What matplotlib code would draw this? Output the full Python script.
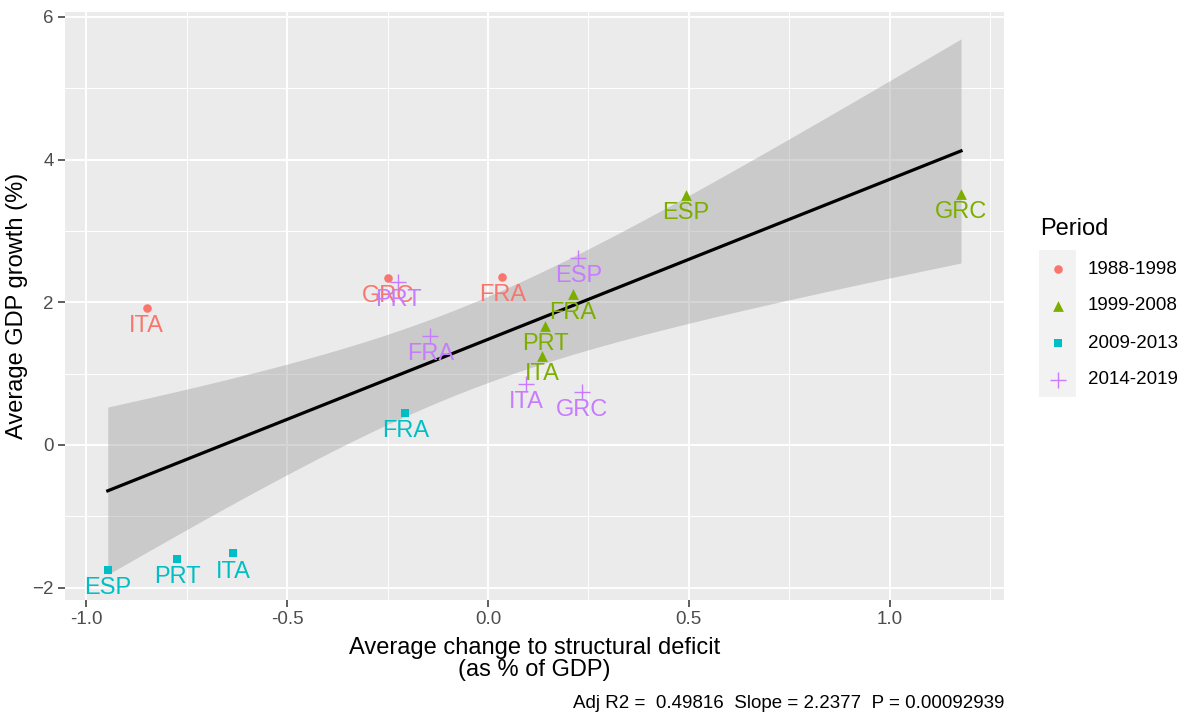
import numpy as np
import matplotlib
matplotlib.use("Agg")
import matplotlib.pyplot as plt
from matplotlib.ticker import FixedLocator

plt.rcParams['font.family'] = ['Liberation Sans', 'DejaVu Sans']

# ---- data ----
periods = ['1988-1998', '1999-2008', '2009-2013', '2014-2019']
colors = ['#F8766D', '#7CAE00', '#00BFC4', '#C77CFF']
markers = ['o', '^', 's', '+']
msizes = [38, 60, 36, 120]

p88_countries = ['ITA', 'GRC', 'FRA']
p88_x = [-0.850, -0.250, 0.036]
p88_y = [1.92, 2.34, 2.36]

p99_countries = ['ESP', 'GRC', 'FRA', 'PRT', 'ITA']
p99_x = [0.493, 1.178, 0.212, 0.142, 0.134]
p99_y = [3.51, 3.52, 2.11, 1.67, 1.25]

p09_countries = ['FRA', 'ESP', 'PRT', 'ITA']
p09_x = [-0.206, -0.947, -0.774, -0.634]
p09_y = [0.45, -1.75, -1.60, -1.52]

p14_countries = ['PRT', 'FRA', 'ESP', 'ITA', 'GRC']
p14_x = [-0.223, -0.144, 0.225, 0.095, 0.233]
p14_y = [2.29, 1.53, 2.62, 0.86, 0.74]

groups = [(p88_countries, p88_x, p88_y),
          (p99_countries, p99_x, p99_y),
          (p09_countries, p09_x, p09_y),
          (p14_countries, p14_x, p14_y)]

caption = "Adj R2 =  0.49816  Slope = 2.2377  P = 0.00092939"
x_title = "Average change to structural deficit\n(as % of GDP)"
y_title = "Average GDP growth (%)"
x_ticks = [-1.0, -0.5, 0.0, 0.5, 1.0]
x_ticklabels = ['-1.0', '-0.5', '0.0', '0.5', '1.0']
y_ticks = [-2, 0, 2, 4, 6]

# ---- figure ----
W, H = 1189, 714
fig = plt.figure(figsize=(W / 100, H / 100), dpi=100)
L, R, T, B = 65, 1004, 12, 600
ax = fig.add_axes([L / W, 1 - B / H, (R - L) / W, (B - T) / H])
ax.set_facecolor('#EBEBEB')
for s in ax.spines.values():
    s.set_visible(False)

ax.set_xlim(-1.0535, 1.285)
ax.set_ylim(-2.174, 6.07)

ax.xaxis.set_major_locator(FixedLocator(x_ticks))
ax.xaxis.set_minor_locator(FixedLocator([-0.75, -0.25, 0.25, 0.75, 1.25]))
ax.yaxis.set_major_locator(FixedLocator(y_ticks))
ax.yaxis.set_minor_locator(FixedLocator([-1, 1, 3, 5]))
ax.set_xticklabels(x_ticklabels)
ax.grid(which='major', color='white', lw=1.4, zorder=0)
ax.grid(which='minor', color='white', lw=0.7, zorder=0)
ax.set_axisbelow(True)
ax.tick_params(which='major', length=5, width=1.1, color='#333333',
               labelcolor='#4D4D4D', labelsize=13.5, pad=3)
ax.tick_params(which='minor', length=0)

# ---- regression with 95% CI ----
allx = np.concatenate([np.array(g[1]) for g in groups])
ally = np.concatenate([np.array(g[2]) for g in groups])
n = len(allx)
b, a = np.polyfit(allx, ally, 1)
resid = ally - (a + b * allx)
s2 = np.sum(resid ** 2) / (n - 2)
xm = allx.mean()
sxx = np.sum((allx - xm) ** 2)
xs = np.linspace(allx.min(), allx.max(), 80)
ys = a + b * xs
se = np.sqrt(s2 * (1 / n + (xs - xm) ** 2 / sxx))
tq = 2.1314  # t(0.975, df=15)
ax.fill_between(xs, ys - tq * se, ys + tq * se, color='#999999', alpha=0.4,
                lw=0, zorder=1)
ax.plot(xs, ys, color='black', lw=2.3, zorder=2)

# ---- points and labels ----
for (cty, xv, yv), col, mk, ms in zip(groups, colors, markers, msizes):
    if mk == '+':
        ax.scatter(xv, yv, marker=mk, s=ms, c=col, linewidths=1.0, zorder=3)
    else:
        ax.scatter(xv, yv, marker=mk, s=ms, c=col, linewidths=0, zorder=3)
    for c, x, y in zip(cty, xv, yv):
        ax.annotate(c, (x, y), xytext=(0, -17.5), textcoords='offset points',
                    ha='center', va='baseline', fontsize=17, color=col, zorder=4)

# ---- axis titles ----
fig.text((L + R) / 2 / W, 1 - 659 / H, x_title, ha='center', va='center',
         fontsize=17, linespacing=0.95)
fig.text(17 / W, 1 - ((T + B) / 2) / H, y_title, ha='center',
         va='center', rotation=90, fontsize=17)
fig.text(R / W, 1 - 703 / H, caption, ha='right', va='center', fontsize=13.5)

# ---- legend (manual) ----
lax = fig.add_axes([0, 0, 1, 1], facecolor='none')
lax.set_xlim(0, W)
lax.set_ylim(H, 0)
lax.axis('off')
lax.add_patch(plt.Rectangle((1039, 250), 37, 147, color='#F2F2F2', lw=0))
lax.text(1040, 229, 'Period', ha='left', va='center', fontsize=17)
rows = [269, 306, 343, 380]
for p, col, mk, ms, ry in zip(periods, colors, markers, msizes, rows):
    if mk == '+':
        lax.scatter([1057.5], [ry], marker=mk, s=ms, c=col, linewidths=1.0)
    else:
        lax.scatter([1057.5], [ry], marker=mk, s=ms, c=col, linewidths=0)
    lax.text(1088, ry, p, ha='left', va='center', fontsize=13.5)

fig.savefig('out.png', dpi=100)
